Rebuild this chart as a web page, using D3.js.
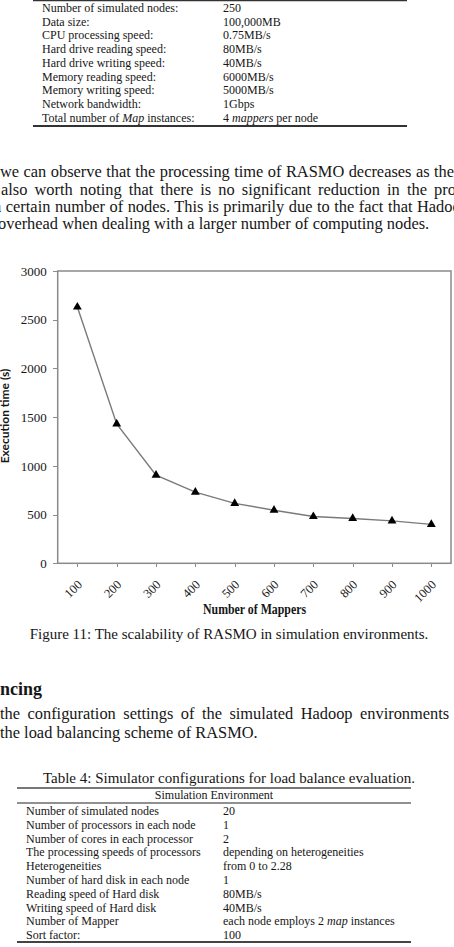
<!DOCTYPE html>
<html lang="en">
<head>
<meta charset="UTF-8">
<title>Scalability of RASMO</title>
<script src="https://d3js.org/d3.v7.min.js"></script>
<style>
    html, body {
        margin: 0;
        padding: 0;
        background: #fff;
        overflow: hidden;
    }
    svg { display: block; }
    text {
        font-family: "Liberation Serif", "Times New Roman", serif;
        fill: #161616;
    }
    .axis path, .axis line {
        fill: none;
        stroke: #8a8a8a;
        shape-rendering: crispEdges;
    }
</style>
</head>
<body>
<script>

// ---- data ----
var table3Labels = ["Number of simulated nodes:", "Data size:", "CPU processing speed:",
    "Hard drive reading speed:", "Hard drive writing speed:", "Memory reading speed:",
    "Memory writing speed:", "Network bandwidth:", "Total number of *Map* instances:"];
var table3Values = ["250", "100,000MB", "0.75MB/s", "80MB/s", "40MB/s", "6000MB/s",
    "5000MB/s", "1Gbps", "4 *mappers* per node"];

var mappers = ["100", "200", "300", "400", "500", "600", "700", "800", "900", "1000"];
var execTime = [2630, 1430, 905, 730, 615, 545, 480, 460, 435, 400];
var yTicks = [0, 500, 1000, 1500, 2000, 2500, 3000];

var table4Labels = ["Number of simulated nodes", "Number of processors in each node",
    "Number of cores in each processor", "The processing speeds of processors",
    "Heterogeneities", "Number of hard disk in each node", "Reading speed of Hard disk",
    "Writing speed of Hard disk", "Number of Mapper", "Sort factor:"];
var table4Values = ["20", "1", "2", "depending on heterogeneities", "from 0 to 2.28", "1",
    "80MB/s", "40MB/s", "each node employs 2 *map* instances", "100"];

var W = 454, H = 947;
var svg = d3.select("body").append("svg").attr("width", W).attr("height", H);

// text with *italic* pieces
function richText(g, str, x, y, size) {
    var t = g.append("text").attr("x", x).attr("y", y).style("font-size", size + "px");
    str.split("*").forEach(function(part, i) {
        if (part === "") return;
        t.append("tspan").style("font-style", i % 2 ? "italic" : "normal").text(part);
    });
    return t;
}

// stretch word spacing so the last word starts at lastX
function justLine(str, x, y, lastX) {
    var t = svg.append("text").attr("x", x).attr("y", y).style("font-size", "16.4px").text(str);
    if (lastX != null) {
        var idx = str.lastIndexOf(" ") + 1;
        var nat = t.node().getStartPositionOfChar(idx).x;
        var gaps = str.slice(0, idx).split(" ").length - 1;
        t.style("word-spacing", ((lastX - nat) / gaps) + "px");
    }
    return t;
}

// ---- Table 3 (bottom part) ----
var t3 = svg.append("g");
t3.append("line").attr("x1", 33).attr("x2", 407).attr("y1", 0.5).attr("y2", 0.5)
    .attr("stroke", "#333").attr("stroke-width", 1.5);
table3Labels.forEach(function(l, i) {
    richText(t3, l, 42, 12 + i * 13.7, 12);
    richText(t3, table3Values[i], 223, 12 + i * 13.7, 12);
});
t3.append("line").attr("x1", 33).attr("x2", 407).attr("y1", 126).attr("y2", 126)
    .attr("stroke", "#333").attr("stroke-width", 1.8);

// ---- paragraph ----
justLine("we can observe that the processing time of RASMO decreases as the", 0, 177, 434);
justLine("also worth noting that there is no significant reduction in the processing", 1, 195, 434);
justLine("a certain number of nodes. This is primarily due to the fact that Hadoop", -6, 212, 417);
justLine("overhead when dealing with a larger number of computing nodes.", -2, 229, null);

// ---- chart ----
var plotL = 57.7, plotR = 451, plotT = 271, plotB = 563.3;

var x = d3.scalePoint().domain(mappers).range([plotL, plotR]).padding(0.5);
var y = d3.scaleLinear().domain([0, 3000]).range([plotB, plotT]);

var chart = svg.append("g");

chart.append("rect")
    .attr("x", plotL).attr("y", plotT)
    .attr("width", plotR - plotL).attr("height", plotB - plotT)
    .attr("fill", "none").attr("stroke", "#8a8a8a").attr("stroke-width", 1.5);

var yAxis = chart.append("g").attr("class", "axis")
    .attr("transform", "translate(" + plotL + ",0)")
    .call(d3.axisLeft(y).tickValues(yTicks).tickFormat(d3.format("d")).tickSize(5).tickPadding(6));
yAxis.select(".domain").remove();
yAxis.selectAll("text").style("font-size", "13px").style("font-family", "Liberation Serif").attr("fill", "#222");

var xAxis = chart.append("g").attr("class", "axis")
    .attr("transform", "translate(0," + plotB + ")")
    .call(d3.axisBottom(x).tickSize(4).tickPadding(0));
xAxis.select(".domain").remove();
xAxis.selectAll("text")
    .style("font-size", "12.5px").style("font-family", "Liberation Serif").attr("fill", "#333")
    .attr("text-anchor", "end")
    .attr("transform", "translate(5,22) rotate(-45)")
    .attr("y", 0).attr("dy", "0");

var line = d3.line()
    .x(function(d, i) { return x(mappers[i]); })
    .y(function(d) { return y(d); });

chart.append("path")
    .datum(execTime)
    .attr("d", line)
    .attr("fill", "none")
    .attr("stroke", "#7a7a7a")
    .attr("stroke-width", 1.4);

chart.selectAll(".pt")
    .data(execTime)
    .enter().append("path")
    .attr("class", "pt")
    .attr("d", d3.symbol().type(d3.symbolTriangle).size(34))
    .attr("transform", function(d, i) { return "translate(" + x(mappers[i]) + "," + y(d) + ")"; })
    .attr("fill", "#000");

chart.append("text")
    .attr("transform", "translate(9,416) rotate(-90)")
    .attr("text-anchor", "middle")
    .style("font-family", "Lato, 'Open Sans', sans-serif")
    .style("font-weight", "bold")
    .style("font-size", "12px")
    .text("Execution time (s)");

chart.append("text")
    .attr("x", 254.5).attr("y", 614)
    .attr("text-anchor", "middle")
    .attr("textLength", 103).attr("lengthAdjust", "spacingAndGlyphs")
    .style("font-weight", "bold")
    .style("font-size", "14px")
    .text("Number of Mappers");

svg.append("text")
    .attr("x", 229).attr("y", 639)
    .attr("text-anchor", "middle")
    .style("font-size", "15px")
    .text("Figure 11: The scalability of RASMO in simulation environments.");

// ---- section heading + paragraph ----
svg.append("text").attr("x", 0).attr("y", 695)
    .style("font-size", "18px").style("font-weight", "bold").text("ncing");
justLine("the configuration settings of the simulated Hadoop environments", 0, 719, 360);
justLine("the load balancing scheme of RASMO.", 0, 738, null);

// ---- Table 4 ----
var t4 = svg.append("g");
t4.append("text").attr("x", 229).attr("y", 783).attr("text-anchor", "middle")
    .style("font-size", "15px")
    .text("Table 4: Simulator configurations for load balance evaluation.");
t4.append("line").attr("x1", 17).attr("x2", 411).attr("y1", 788).attr("y2", 788)
    .attr("stroke", "#777").attr("stroke-width", 2);
t4.append("text").attr("x", 214).attr("y", 799).attr("text-anchor", "middle")
    .style("font-size", "12px").text("Simulation Environment");
t4.append("line").attr("x1", 17).attr("x2", 411).attr("y1", 803).attr("y2", 803)
    .attr("stroke", "#222").attr("stroke-width", 1);
table4Labels.forEach(function(l, i) {
    richText(t4, l, 26, 815 + i * 13.8, 12);
    richText(t4, table4Values[i], 223, 815 + i * 13.8, 12);
});
t4.append("line").attr("x1", 17).attr("x2", 411).attr("y1", 942).attr("y2", 942)
    .attr("stroke", "#444").attr("stroke-width", 2);

</script>
</body>
</html>
